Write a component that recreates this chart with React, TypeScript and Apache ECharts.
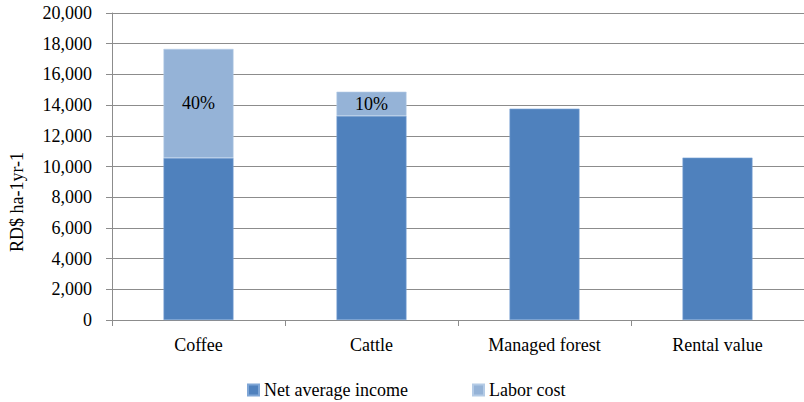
import React, { useEffect, useRef } from "react";
import * as echarts from "echarts";

// Land-use categories and their annual returns (RD$ per hectare per year)
const categories = ["Coffee", "Cattle", "Managed forest", "Rental value"];
const netAverageIncome = [10560, 13300, 13770, 10580];
const laborCost = [7100, 1570, 0, 0];
// Share of labor in total returns, shown inside the labor segment
const laborShareLabels = ["40%", "10%", "", ""];

const yTicks = { min: 0, max: 20000, interval: 2000 };
const yAxisTitle = "RD$ ha-1yr-1";

const FONT = "Liberation Serif";
const DARK = "#4F81BD";
const LIGHT = "#95B3D7";
const GRID_GRAY = "#8C8C8C";

export default function App() {
  const ref = useRef<HTMLDivElement>(null);

  useEffect(() => {
    if (!ref.current) return;
    const chart = echarts.init(ref.current, undefined, { renderer: "svg" });

    const legendBase = {
      top: 381,
      padding: 0,
      icon: "rect",
      itemWidth: 11,
      itemHeight: 11,
      itemGap: 5,
      textStyle: { fontFamily: FONT, fontSize: 18, color: "#000" },
    };

    chart.setOption({
      animation: false,
      backgroundColor: "#ffffff",
      textStyle: { fontFamily: FONT, color: "#000" },
      grid: { left: 112, top: 13, width: 700, height: 307, containLabel: false },
      legend: [
        { ...legendBase, data: ["Net average income"], left: 247 },
        { ...legendBase, data: ["Labor cost"], left: 472 },
      ],
      xAxis: {
        type: "category",
        data: categories,
        boundaryGap: true,
        axisLine: { lineStyle: { color: GRID_GRAY, width: 1 } },
        axisTick: { show: true, alignWithLabel: false, length: 6, lineStyle: { color: GRID_GRAY } },
        axisLabel: { fontFamily: FONT, fontSize: 18, color: "#000", margin: 16 },
      },
      yAxis: {
        type: "value",
        min: yTicks.min,
        max: yTicks.max,
        interval: yTicks.interval,
        axisLine: { show: true, lineStyle: { color: GRID_GRAY, width: 1 } },
        axisTick: { show: true, length: 6, lineStyle: { color: GRID_GRAY } },
        splitLine: { show: true, lineStyle: { color: GRID_GRAY, width: 1 } },
        axisLabel: {
          fontFamily: FONT,
          fontSize: 18,
          color: "#000",
          margin: 20,
          formatter: (v: number) => v.toLocaleString("en-US"),
        },
      },
      graphic: [
        {
          type: "text",
          x: 17,
          y: 202,
          rotation: Math.PI / 2,
          style: {
            text: yAxisTitle,
            fontFamily: FONT,
            fontSize: 18,
            fill: "#000",
            align: "center",
            verticalAlign: "middle",
          },
        },
      ],
      series: [
        {
          name: "Net average income",
          type: "bar",
          stack: "total",
          barWidth: 70,
          data: netAverageIncome,
          itemStyle: { color: DARK, borderColor: "#7FA6D6", borderWidth: 0.6 },
        },
        {
          name: "Labor cost",
          type: "bar",
          stack: "total",
          barWidth: 70,
          data: laborCost.map((v) => (v > 0 ? v : null)),
          itemStyle: { color: LIGHT, borderColor: "#B4CBE6", borderWidth: 0.6 },
          label: {
            show: true,
            position: "inside",
            fontFamily: FONT,
            fontSize: 18,
            color: "#000",
            formatter: (p: any) => laborShareLabels[p.dataIndex],
          },
        },
      ],
    });

    return () => chart.dispose();
  }, []);

  return (
    <div
      ref={ref}
      style={{ position: "fixed", left: 0, top: 0, width: 804, height: 402, background: "#fff" }}
    />
  );
}
